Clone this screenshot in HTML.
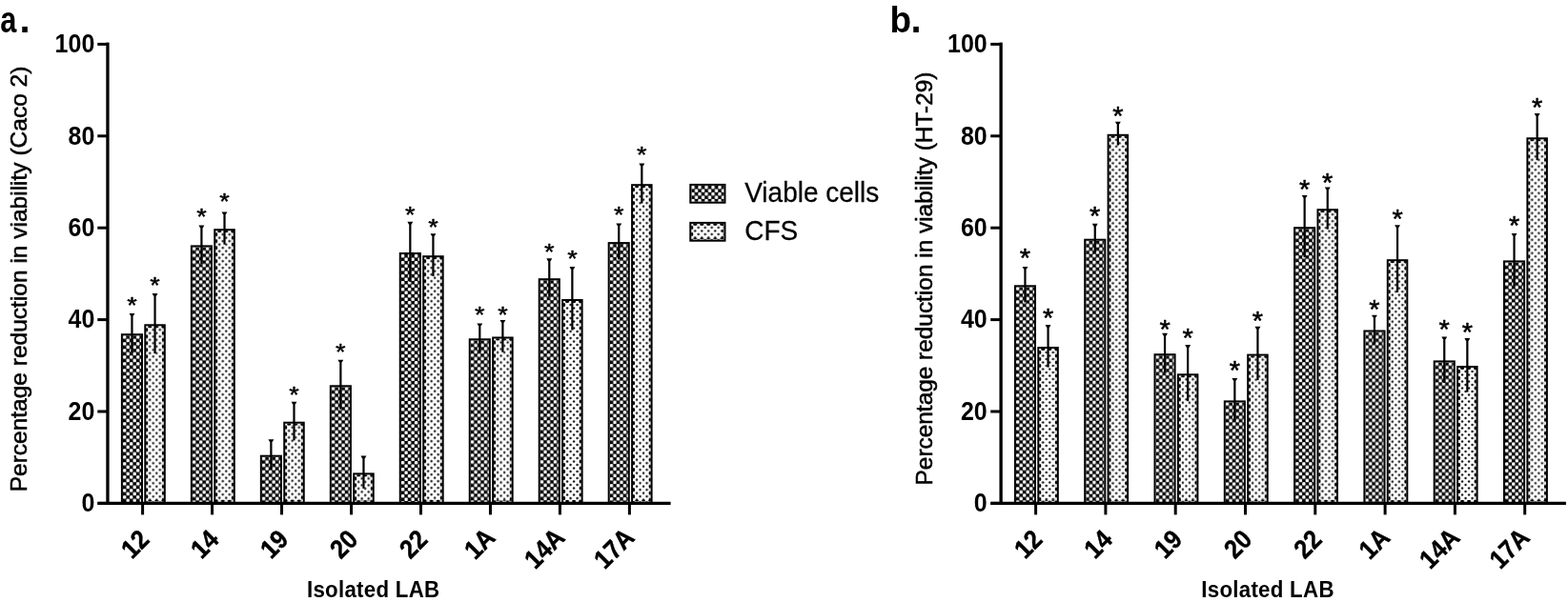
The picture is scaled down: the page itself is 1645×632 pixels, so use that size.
<!DOCTYPE html><html><head><meta charset="utf-8"><title>Figure</title>
<style>html,body{margin:0;padding:0;background:#fff;}svg{display:block;}text{font-family:"Liberation Sans",Arial,sans-serif;fill:#000;}</style></head><body>
<svg width="1645" height="632" viewBox="0 0 1645 632">
<defs><pattern id="pd" patternUnits="userSpaceOnUse" width="7" height="7"><rect width="7" height="7" fill="#000"/><rect x="0.1" y="0.1" width="3.35" height="3.35" rx="0.8" fill="#fff"/><rect x="3.6" y="3.6" width="3.35" height="3.35" rx="0.8" fill="#fff"/></pattern><pattern id="pl" patternUnits="userSpaceOnUse" width="7" height="7"><rect width="7" height="7" fill="#fff"/><circle cx="0.5" cy="4" r="1.2" fill="#111"/><circle cx="4" cy="0.5" r="1.2" fill="#111"/><circle cx="7.5" cy="4" r="1.2" fill="#111"/><circle cx="4" cy="7.5" r="1.2" fill="#111"/></pattern><pattern id="sc" patternUnits="userSpaceOnUse" width="7" height="7"><circle cx="0.5" cy="4" r="2.0" fill="#000"/><circle cx="4" cy="0.5" r="2.0" fill="#000"/><circle cx="7.5" cy="4" r="2.0" fill="#000"/><circle cx="4" cy="7.5" r="2.0" fill="#000"/></pattern><filter id="soft" filterUnits="userSpaceOnUse" x="0" y="0" width="1645" height="632" color-interpolation-filters="sRGB"><feGaussianBlur stdDeviation="0.6"/></filter></defs>
<rect width="1645" height="632" fill="#fff"/>
<g filter="url(#soft)">
<g transform="translate(128.9 352.2)"><rect width="19.1" height="176.2" fill="url(#pd)"/></g>
<rect x="127.9" y="351.2" width="21.1" height="177.2" fill="none" stroke="#000" stroke-width="2.0"/>
<rect x="137.35" y="330.2" width="2.2" height="40" fill="#000"/>
<polygon points="135.55,328.9 141.35,328.9 139.95,331.5 136.95,331.5" fill="#000"/>
<text font-size="27" text-anchor="middle" stroke="#000" stroke-width="0.5" stroke-linejoin="round" transform="translate(138.45 328.5) scale(1.0 0.86)">*</text>
<g transform="translate(153.3 342.3)"><rect width="18.5" height="186.1" fill="url(#pl)"/><rect width="1.9" height="186.1" fill="url(#sc)"/><rect x="16.6" width="1.9" height="186.1" fill="url(#sc)"/><rect width="18.5" height="1.9" fill="url(#sc)"/><rect y="182.55" width="18.5" height="1.9" fill="url(#sc)"/></g>
<rect x="152.3" y="341.3" width="20.5" height="187.1" fill="none" stroke="#000" stroke-width="2.0"/>
<rect x="161.45" y="309.4" width="2.2" height="61.8" fill="#000"/>
<polygon points="159.65,308.1 165.45,308.1 164.05,310.7 161.05,310.7" fill="#000"/>
<text font-size="27" text-anchor="middle" stroke="#000" stroke-width="0.5" stroke-linejoin="round" transform="translate(162.55 307.6) scale(1.0 0.86)">*</text>
<g transform="translate(201.87 259.4)"><rect width="19.1" height="269" fill="url(#pd)"/></g>
<rect x="200.87" y="258.4" width="21.1" height="270" fill="none" stroke="#000" stroke-width="2.0"/>
<rect x="210.32" y="237.9" width="2.2" height="39" fill="#000"/>
<polygon points="208.52,236.6 214.32,236.6 212.92,239.2 209.92,239.2" fill="#000"/>
<text font-size="27" text-anchor="middle" stroke="#000" stroke-width="0.5" stroke-linejoin="round" transform="translate(211.42 235.8) scale(1.0 0.86)">*</text>
<g transform="translate(226.27 242.2)"><rect width="18.5" height="286.2" fill="url(#pl)"/><rect width="1.9" height="286.2" fill="url(#sc)"/><rect x="16.6" width="1.9" height="286.2" fill="url(#sc)"/><rect width="18.5" height="1.9" fill="url(#sc)"/><rect y="282.65" width="18.5" height="1.9" fill="url(#sc)"/></g>
<rect x="225.27" y="241.2" width="20.5" height="287.2" fill="none" stroke="#000" stroke-width="2.0"/>
<rect x="234.42" y="223.7" width="2.2" height="33" fill="#000"/>
<polygon points="232.62,222.4 238.42,222.4 237.02,225 234.02,225" fill="#000"/>
<text font-size="27" text-anchor="middle" stroke="#000" stroke-width="0.5" stroke-linejoin="round" transform="translate(235.52 220.35) scale(1.0 0.86)">*</text>
<g transform="translate(274.84 479.7)"><rect width="19.1" height="48.7" fill="url(#pd)"/></g>
<rect x="273.84" y="478.7" width="21.1" height="49.7" fill="none" stroke="#000" stroke-width="2.0"/>
<rect x="283.29" y="462.5" width="2.2" height="30.4" fill="#000"/>
<polygon points="281.49,461.2 287.29,461.2 285.89,463.8 282.89,463.8" fill="#000"/>
<g transform="translate(299.24 444.7)"><rect width="18.5" height="83.7" fill="url(#pl)"/><rect width="1.9" height="83.7" fill="url(#sc)"/><rect x="16.6" width="1.9" height="83.7" fill="url(#sc)"/><rect width="18.5" height="1.9" fill="url(#sc)"/><rect y="80.15" width="18.5" height="1.9" fill="url(#sc)"/></g>
<rect x="298.24" y="443.7" width="20.5" height="84.7" fill="none" stroke="#000" stroke-width="2.0"/>
<rect x="307.39" y="423" width="2.2" height="39.4" fill="#000"/>
<polygon points="305.59,421.7 311.39,421.7 309.99,424.3 306.99,424.3" fill="#000"/>
<text font-size="27" text-anchor="middle" stroke="#000" stroke-width="0.5" stroke-linejoin="round" transform="translate(308.49 423) scale(1.0 0.86)">*</text>
<g transform="translate(347.81 406.3)"><rect width="19.1" height="122.1" fill="url(#pd)"/></g>
<rect x="346.81" y="405.3" width="21.1" height="123.1" fill="none" stroke="#000" stroke-width="2.0"/>
<rect x="356.26" y="379" width="2.2" height="50.6" fill="#000"/>
<polygon points="354.46,377.7 360.26,377.7 358.86,380.3 355.86,380.3" fill="#000"/>
<text font-size="27" text-anchor="middle" stroke="#000" stroke-width="0.5" stroke-linejoin="round" transform="translate(357.36 377.5) scale(1.0 0.86)">*</text>
<g transform="translate(372.21 498.4)"><rect width="18.5" height="30" fill="url(#pl)"/><rect width="1.9" height="30" fill="url(#sc)"/><rect x="16.6" width="1.9" height="30" fill="url(#sc)"/><rect width="18.5" height="1.9" fill="url(#sc)"/><rect y="26.45" width="18.5" height="1.9" fill="url(#sc)"/></g>
<rect x="371.21" y="497.4" width="20.5" height="31" fill="none" stroke="#000" stroke-width="2.0"/>
<rect x="380.36" y="479.9" width="2.2" height="33" fill="#000"/>
<polygon points="378.56,478.6 384.36,478.6 382.96,481.2 379.96,481.2" fill="#000"/>
<g transform="translate(420.78 267)"><rect width="19.1" height="261.4" fill="url(#pd)"/></g>
<rect x="419.78" y="266" width="21.1" height="262.4" fill="none" stroke="#000" stroke-width="2.0"/>
<rect x="429.23" y="234.1" width="2.2" height="61.8" fill="#000"/>
<polygon points="427.43,232.8 433.23,232.8 431.83,235.4 428.83,235.4" fill="#000"/>
<text font-size="27" text-anchor="middle" stroke="#000" stroke-width="0.5" stroke-linejoin="round" transform="translate(430.33 234.1) scale(1.0 0.86)">*</text>
<g transform="translate(445.18 270.2)"><rect width="18.5" height="258.2" fill="url(#pl)"/><rect width="1.9" height="258.2" fill="url(#sc)"/><rect x="16.6" width="1.9" height="258.2" fill="url(#sc)"/><rect width="18.5" height="1.9" fill="url(#sc)"/><rect y="254.65" width="18.5" height="1.9" fill="url(#sc)"/></g>
<rect x="444.18" y="269.2" width="20.5" height="259.2" fill="none" stroke="#000" stroke-width="2.0"/>
<rect x="453.33" y="246.5" width="2.2" height="43.4" fill="#000"/>
<polygon points="451.53,245.2 457.33,245.2 455.93,247.8 452.93,247.8" fill="#000"/>
<text font-size="27" text-anchor="middle" stroke="#000" stroke-width="0.5" stroke-linejoin="round" transform="translate(454.43 246.5) scale(1.0 0.86)">*</text>
<g transform="translate(493.75 357.3)"><rect width="19.1" height="171.1" fill="url(#pd)"/></g>
<rect x="492.75" y="356.3" width="21.1" height="172.1" fill="none" stroke="#000" stroke-width="2.0"/>
<rect x="502.2" y="340.8" width="2.2" height="29" fill="#000"/>
<polygon points="500.4,339.5 506.2,339.5 504.8,342.1 501.8,342.1" fill="#000"/>
<text font-size="27" text-anchor="middle" stroke="#000" stroke-width="0.5" stroke-linejoin="round" transform="translate(503.3 339.1) scale(1.0 0.86)">*</text>
<g transform="translate(518.15 355.5)"><rect width="18.5" height="172.9" fill="url(#pl)"/><rect width="1.9" height="172.9" fill="url(#sc)"/><rect x="16.6" width="1.9" height="172.9" fill="url(#sc)"/><rect width="18.5" height="1.9" fill="url(#sc)"/><rect y="169.35" width="18.5" height="1.9" fill="url(#sc)"/></g>
<rect x="517.15" y="354.5" width="20.5" height="173.9" fill="none" stroke="#000" stroke-width="2.0"/>
<rect x="526.3" y="337.2" width="2.2" height="32.6" fill="#000"/>
<polygon points="524.5,335.9 530.3,335.9 528.9,338.5 525.9,338.5" fill="#000"/>
<text font-size="27" text-anchor="middle" stroke="#000" stroke-width="0.5" stroke-linejoin="round" transform="translate(527.4 338.9) scale(1.0 0.86)">*</text>
<g transform="translate(566.72 294.2)"><rect width="19.1" height="234.2" fill="url(#pd)"/></g>
<rect x="565.72" y="293.2" width="21.1" height="235.2" fill="none" stroke="#000" stroke-width="2.0"/>
<rect x="575.17" y="272.6" width="2.2" height="39.2" fill="#000"/>
<polygon points="573.37,271.3 579.17,271.3 577.77,273.9 574.77,273.9" fill="#000"/>
<text font-size="27" text-anchor="middle" stroke="#000" stroke-width="0.5" stroke-linejoin="round" transform="translate(576.27 272.6) scale(1.0 0.86)">*</text>
<g transform="translate(591.12 316)"><rect width="18.5" height="212.4" fill="url(#pl)"/><rect width="1.9" height="212.4" fill="url(#sc)"/><rect x="16.6" width="1.9" height="212.4" fill="url(#sc)"/><rect width="18.5" height="1.9" fill="url(#sc)"/><rect y="208.85" width="18.5" height="1.9" fill="url(#sc)"/></g>
<rect x="590.12" y="315" width="20.5" height="213.4" fill="none" stroke="#000" stroke-width="2.0"/>
<rect x="599.27" y="281.4" width="2.2" height="65.2" fill="#000"/>
<polygon points="597.47,280.1 603.27,280.1 601.87,282.7 598.87,282.7" fill="#000"/>
<text font-size="27" text-anchor="middle" stroke="#000" stroke-width="0.5" stroke-linejoin="round" transform="translate(600.37 279.7) scale(1.0 0.86)">*</text>
<g transform="translate(639.69 256.1)"><rect width="19.1" height="272.3" fill="url(#pd)"/></g>
<rect x="638.69" y="255.1" width="21.1" height="273.3" fill="none" stroke="#000" stroke-width="2.0"/>
<rect x="648.14" y="235.8" width="2.2" height="36.6" fill="#000"/>
<polygon points="646.34,234.5 652.14,234.5 650.74,237.1 647.74,237.1" fill="#000"/>
<text font-size="27" text-anchor="middle" stroke="#000" stroke-width="0.5" stroke-linejoin="round" transform="translate(649.24 234.3) scale(1.0 0.86)">*</text>
<g transform="translate(664.09 195.2)"><rect width="18.5" height="333.2" fill="url(#pl)"/><rect width="1.9" height="333.2" fill="url(#sc)"/><rect x="16.6" width="1.9" height="333.2" fill="url(#sc)"/><rect width="18.5" height="1.9" fill="url(#sc)"/><rect y="329.65" width="18.5" height="1.9" fill="url(#sc)"/></g>
<rect x="663.09" y="194.2" width="20.5" height="334.2" fill="none" stroke="#000" stroke-width="2.0"/>
<rect x="672.24" y="172.9" width="2.2" height="40.6" fill="#000"/>
<polygon points="670.44,171.6 676.24,171.6 674.84,174.2 671.84,174.2" fill="#000"/>
<text font-size="27" text-anchor="middle" stroke="#000" stroke-width="0.5" stroke-linejoin="round" transform="translate(673.34 171.4) scale(1.0 0.86)">*</text>
<rect x="111.3" y="44.6" width="3.3" height="485.45" fill="#000"/>
<rect x="102.5" y="526.75" width="601.1" height="3.3" fill="#000"/>
<rect x="102.3" y="526.9" width="10.65" height="3" fill="#000"/>
<text font-size="25" font-weight="bold" text-anchor="end" transform="translate(99.3 537.2) scale(1 1.1)">0</text>
<rect x="102.3" y="430.5" width="10.65" height="3" fill="#000"/>
<text font-size="25" font-weight="bold" text-anchor="end" transform="translate(99.3 440.8) scale(1 1.1)">20</text>
<rect x="102.3" y="334.1" width="10.65" height="3" fill="#000"/>
<text font-size="25" font-weight="bold" text-anchor="end" transform="translate(99.3 344.4) scale(1 1.1)">40</text>
<rect x="102.3" y="237.7" width="10.65" height="3" fill="#000"/>
<text font-size="25" font-weight="bold" text-anchor="end" transform="translate(99.3 248) scale(1 1.1)">60</text>
<rect x="102.3" y="141.3" width="10.65" height="3" fill="#000"/>
<text font-size="25" font-weight="bold" text-anchor="end" transform="translate(99.3 151.6) scale(1 1.1)">80</text>
<rect x="102.3" y="44.9" width="10.65" height="3" fill="#000"/>
<text font-size="25" font-weight="bold" text-anchor="end" transform="translate(99.3 55.2) scale(1 1.1)">100</text>
<rect x="148.1" y="528.4" width="3" height="12" fill="#000"/>
<text font-size="25" font-weight="bold" text-anchor="end" stroke="#000" stroke-width="0.4" transform="translate(158.2 568) rotate(-45) scale(1 1.1)">12</text>
<rect x="221.07" y="528.4" width="3" height="12" fill="#000"/>
<text font-size="25" font-weight="bold" text-anchor="end" stroke="#000" stroke-width="0.4" transform="translate(231.17 568) rotate(-45) scale(1 1.1)">14</text>
<rect x="294.04" y="528.4" width="3" height="12" fill="#000"/>
<text font-size="25" font-weight="bold" text-anchor="end" stroke="#000" stroke-width="0.4" transform="translate(304.14 568) rotate(-45) scale(1 1.1)">19</text>
<rect x="367.01" y="528.4" width="3" height="12" fill="#000"/>
<text font-size="25" font-weight="bold" text-anchor="end" stroke="#000" stroke-width="0.4" transform="translate(377.11 568) rotate(-45) scale(1 1.1)">20</text>
<rect x="439.98" y="528.4" width="3" height="12" fill="#000"/>
<text font-size="25" font-weight="bold" text-anchor="end" stroke="#000" stroke-width="0.4" transform="translate(450.08 568) rotate(-45) scale(1 1.1)">22</text>
<rect x="512.95" y="528.4" width="3" height="12" fill="#000"/>
<text font-size="25" font-weight="bold" text-anchor="end" stroke="#000" stroke-width="0.4" transform="translate(521.05 566) rotate(-45) scale(1 1.1)">1A</text>
<rect x="585.92" y="528.4" width="3" height="12" fill="#000"/>
<text font-size="25" font-weight="bold" text-anchor="end" stroke="#000" stroke-width="0.4" transform="translate(594.02 566) rotate(-45) scale(1 1.1)">14A</text>
<rect x="658.89" y="528.4" width="3" height="12" fill="#000"/>
<text font-size="25" font-weight="bold" text-anchor="end" stroke="#000" stroke-width="0.4" transform="translate(666.99 566) rotate(-45) scale(1 1.1)">17A</text>
<text x="28" y="293" font-size="24.5" text-anchor="middle" stroke="#000" stroke-width="0.55" transform="rotate(-90 28 293)">Percentage reduction in viability (Caco 2)</text>
<text font-size="22.3" font-weight="bold" letter-spacing="0.27" text-anchor="middle" transform="translate(391.7 627.4) scale(1 1.05)">Isolated LAB</text>
<g transform="translate(1065.9 301.3)"><rect width="19.1" height="227.1" fill="url(#pd)"/></g>
<rect x="1064.9" y="300.3" width="21.1" height="228.1" fill="none" stroke="#000" stroke-width="2.0"/>
<rect x="1074.35" y="281.2" width="2.2" height="36.2" fill="#000"/>
<polygon points="1072.55,279.9 1078.35,279.9 1076.95,282.5 1073.95,282.5" fill="#000"/>
<text font-size="29" text-anchor="middle" stroke="#000" stroke-width="0.5" stroke-linejoin="round" transform="translate(1075.45 279.72) scale(1.0 0.97)">*</text>
<g transform="translate(1090.3 366)"><rect width="18.5" height="162.4" fill="url(#pl)"/><rect width="1.9" height="162.4" fill="url(#sc)"/><rect x="16.6" width="1.9" height="162.4" fill="url(#sc)"/><rect width="18.5" height="1.9" fill="url(#sc)"/><rect y="158.85" width="18.5" height="1.9" fill="url(#sc)"/></g>
<rect x="1089.3" y="365" width="20.5" height="163.4" fill="none" stroke="#000" stroke-width="2.0"/>
<rect x="1098.45" y="342.4" width="2.2" height="43.2" fill="#000"/>
<polygon points="1096.65,341.1 1102.45,341.1 1101.05,343.7 1098.05,343.7" fill="#000"/>
<text font-size="29" text-anchor="middle" stroke="#000" stroke-width="0.5" stroke-linejoin="round" transform="translate(1099.55 342.52) scale(1.0 0.97)">*</text>
<g transform="translate(1139.2 252.7)"><rect width="19.1" height="275.7" fill="url(#pd)"/></g>
<rect x="1138.2" y="251.7" width="21.1" height="276.7" fill="none" stroke="#000" stroke-width="2.0"/>
<rect x="1147.65" y="236.1" width="2.2" height="29.2" fill="#000"/>
<polygon points="1145.85,234.8 1151.65,234.8 1150.25,237.4 1147.25,237.4" fill="#000"/>
<text font-size="29" text-anchor="middle" stroke="#000" stroke-width="0.5" stroke-linejoin="round" transform="translate(1148.75 236.12) scale(1.0 0.97)">*</text>
<g transform="translate(1163.6 142.8)"><rect width="18.5" height="385.6" fill="url(#pl)"/><rect width="1.9" height="385.6" fill="url(#sc)"/><rect x="16.6" width="1.9" height="385.6" fill="url(#sc)"/><rect width="18.5" height="1.9" fill="url(#sc)"/><rect y="382.05" width="18.5" height="1.9" fill="url(#sc)"/></g>
<rect x="1162.6" y="141.8" width="20.5" height="386.6" fill="none" stroke="#000" stroke-width="2.0"/>
<rect x="1171.75" y="129" width="2.2" height="23.6" fill="#000"/>
<polygon points="1169.95,127.7 1175.75,127.7 1174.35,130.3 1171.35,130.3" fill="#000"/>
<text font-size="29" text-anchor="middle" stroke="#000" stroke-width="0.5" stroke-linejoin="round" transform="translate(1172.85 131.12) scale(1.0 0.97)">*</text>
<g transform="translate(1212.5 373.2)"><rect width="19.1" height="155.2" fill="url(#pd)"/></g>
<rect x="1211.5" y="372.2" width="21.1" height="156.2" fill="none" stroke="#000" stroke-width="2.0"/>
<rect x="1220.95" y="351.1" width="2.2" height="40.2" fill="#000"/>
<polygon points="1219.15,349.8 1224.95,349.8 1223.55,352.4 1220.55,352.4" fill="#000"/>
<text font-size="29" text-anchor="middle" stroke="#000" stroke-width="0.5" stroke-linejoin="round" transform="translate(1222.05 354.72) scale(1.0 0.97)">*</text>
<g transform="translate(1236.9 394.3)"><rect width="18.5" height="134.1" fill="url(#pl)"/><rect width="1.9" height="134.1" fill="url(#sc)"/><rect x="16.6" width="1.9" height="134.1" fill="url(#sc)"/><rect width="18.5" height="1.9" fill="url(#sc)"/><rect y="130.55" width="18.5" height="1.9" fill="url(#sc)"/></g>
<rect x="1235.9" y="393.3" width="20.5" height="135.1" fill="none" stroke="#000" stroke-width="2.0"/>
<rect x="1245.05" y="363.4" width="2.2" height="57.8" fill="#000"/>
<polygon points="1243.25,362.1 1249.05,362.1 1247.65,364.7 1244.65,364.7" fill="#000"/>
<text font-size="29" text-anchor="middle" stroke="#000" stroke-width="0.5" stroke-linejoin="round" transform="translate(1246.15 363.52) scale(1.0 0.97)">*</text>
<g transform="translate(1285.8 422.4)"><rect width="19.1" height="106" fill="url(#pd)"/></g>
<rect x="1284.8" y="421.4" width="21.1" height="107" fill="none" stroke="#000" stroke-width="2.0"/>
<rect x="1294.25" y="398.3" width="2.2" height="44.2" fill="#000"/>
<polygon points="1292.45,397 1298.25,397 1296.85,399.6 1293.85,399.6" fill="#000"/>
<text font-size="29" text-anchor="middle" stroke="#000" stroke-width="0.5" stroke-linejoin="round" transform="translate(1295.35 398.32) scale(1.0 0.97)">*</text>
<g transform="translate(1310.2 373.6)"><rect width="18.5" height="154.8" fill="url(#pl)"/><rect width="1.9" height="154.8" fill="url(#sc)"/><rect x="16.6" width="1.9" height="154.8" fill="url(#sc)"/><rect width="18.5" height="1.9" fill="url(#sc)"/><rect y="151.25" width="18.5" height="1.9" fill="url(#sc)"/></g>
<rect x="1309.2" y="372.6" width="20.5" height="155.8" fill="none" stroke="#000" stroke-width="2.0"/>
<rect x="1318.35" y="344.1" width="2.2" height="55" fill="#000"/>
<polygon points="1316.55,342.8 1322.35,342.8 1320.95,345.4 1317.95,345.4" fill="#000"/>
<text font-size="29" text-anchor="middle" stroke="#000" stroke-width="0.5" stroke-linejoin="round" transform="translate(1319.45 345.92) scale(1.0 0.97)">*</text>
<g transform="translate(1359.1 240.2)"><rect width="19.1" height="288.2" fill="url(#pd)"/></g>
<rect x="1358.1" y="239.2" width="21.1" height="289.2" fill="none" stroke="#000" stroke-width="2.0"/>
<rect x="1367.55" y="206.2" width="2.2" height="64" fill="#000"/>
<polygon points="1365.75,204.9 1371.55,204.9 1370.15,207.5 1367.15,207.5" fill="#000"/>
<text font-size="29" text-anchor="middle" stroke="#000" stroke-width="0.5" stroke-linejoin="round" transform="translate(1368.65 207.62) scale(1.0 0.97)">*</text>
<g transform="translate(1383.5 221.2)"><rect width="18.5" height="307.2" fill="url(#pl)"/><rect width="1.9" height="307.2" fill="url(#sc)"/><rect x="16.6" width="1.9" height="307.2" fill="url(#sc)"/><rect width="18.5" height="1.9" fill="url(#sc)"/><rect y="303.65" width="18.5" height="1.9" fill="url(#sc)"/></g>
<rect x="1382.5" y="220.2" width="20.5" height="308.2" fill="none" stroke="#000" stroke-width="2.0"/>
<rect x="1391.65" y="197.7" width="2.2" height="43" fill="#000"/>
<polygon points="1389.85,196.4 1395.65,196.4 1394.25,199 1391.25,199" fill="#000"/>
<text font-size="29" text-anchor="middle" stroke="#000" stroke-width="0.5" stroke-linejoin="round" transform="translate(1392.75 201.02) scale(1.0 0.97)">*</text>
<g transform="translate(1432.4 348.5)"><rect width="19.1" height="179.9" fill="url(#pd)"/></g>
<rect x="1431.4" y="347.5" width="21.1" height="180.9" fill="none" stroke="#000" stroke-width="2.0"/>
<rect x="1440.85" y="332" width="2.2" height="29" fill="#000"/>
<polygon points="1439.05,330.7 1444.85,330.7 1443.45,333.3 1440.45,333.3" fill="#000"/>
<text font-size="29" text-anchor="middle" stroke="#000" stroke-width="0.5" stroke-linejoin="round" transform="translate(1441.95 333.52) scale(1.0 0.97)">*</text>
<g transform="translate(1456.8 274.2)"><rect width="18.5" height="254.2" fill="url(#pl)"/><rect width="1.9" height="254.2" fill="url(#sc)"/><rect x="16.6" width="1.9" height="254.2" fill="url(#sc)"/><rect width="18.5" height="1.9" fill="url(#sc)"/><rect y="250.65" width="18.5" height="1.9" fill="url(#sc)"/></g>
<rect x="1455.8" y="273.2" width="20.5" height="255.2" fill="none" stroke="#000" stroke-width="2.0"/>
<rect x="1464.95" y="237.5" width="2.2" height="69.4" fill="#000"/>
<polygon points="1463.15,236.2 1468.95,236.2 1467.55,238.8 1464.55,238.8" fill="#000"/>
<text font-size="29" text-anchor="middle" stroke="#000" stroke-width="0.5" stroke-linejoin="round" transform="translate(1466.05 239.32) scale(1.0 0.97)">*</text>
<g transform="translate(1505.7 380.4)"><rect width="19.1" height="148" fill="url(#pd)"/></g>
<rect x="1504.7" y="379.4" width="21.1" height="149" fill="none" stroke="#000" stroke-width="2.0"/>
<rect x="1514.15" y="354.8" width="2.2" height="47.2" fill="#000"/>
<polygon points="1512.35,353.5 1518.15,353.5 1516.75,356.1 1513.75,356.1" fill="#000"/>
<text font-size="29" text-anchor="middle" stroke="#000" stroke-width="0.5" stroke-linejoin="round" transform="translate(1515.25 354.82) scale(1.0 0.97)">*</text>
<g transform="translate(1530.1 386)"><rect width="18.5" height="142.4" fill="url(#pl)"/><rect width="1.9" height="142.4" fill="url(#sc)"/><rect x="16.6" width="1.9" height="142.4" fill="url(#sc)"/><rect width="18.5" height="1.9" fill="url(#sc)"/><rect y="138.85" width="18.5" height="1.9" fill="url(#sc)"/></g>
<rect x="1529.1" y="385" width="20.5" height="143.4" fill="none" stroke="#000" stroke-width="2.0"/>
<rect x="1538.25" y="356.4" width="2.2" height="55.2" fill="#000"/>
<polygon points="1536.45,355.1 1542.25,355.1 1540.85,357.7 1537.85,357.7" fill="#000"/>
<text font-size="29" text-anchor="middle" stroke="#000" stroke-width="0.5" stroke-linejoin="round" transform="translate(1539.35 358.22) scale(1.0 0.97)">*</text>
<g transform="translate(1579 275.4)"><rect width="19.1" height="253" fill="url(#pd)"/></g>
<rect x="1578" y="274.4" width="21.1" height="254" fill="none" stroke="#000" stroke-width="2.0"/>
<rect x="1587.45" y="246.3" width="2.2" height="54.2" fill="#000"/>
<polygon points="1585.65,245 1591.45,245 1590.05,247.6 1587.05,247.6" fill="#000"/>
<text font-size="29" text-anchor="middle" stroke="#000" stroke-width="0.5" stroke-linejoin="round" transform="translate(1588.55 246.42) scale(1.0 0.97)">*</text>
<g transform="translate(1603.4 146.3)"><rect width="18.5" height="382.1" fill="url(#pl)"/><rect width="1.9" height="382.1" fill="url(#sc)"/><rect x="16.6" width="1.9" height="382.1" fill="url(#sc)"/><rect width="18.5" height="1.9" fill="url(#sc)"/><rect y="378.55" width="18.5" height="1.9" fill="url(#sc)"/></g>
<rect x="1602.4" y="145.3" width="20.5" height="383.1" fill="none" stroke="#000" stroke-width="2.0"/>
<rect x="1611.55" y="120.4" width="2.2" height="47.8" fill="#000"/>
<polygon points="1609.75,119.1 1615.55,119.1 1614.15,121.7 1611.15,121.7" fill="#000"/>
<text font-size="29" text-anchor="middle" stroke="#000" stroke-width="0.5" stroke-linejoin="round" transform="translate(1612.65 122.32) scale(1.0 0.97)">*</text>
<rect x="1048.45" y="44.6" width="3.3" height="485.45" fill="#000"/>
<rect x="1039.3" y="526.75" width="603.6" height="3.3" fill="#000"/>
<rect x="1039.2" y="526.9" width="10.9" height="3" fill="#000"/>
<text font-size="25" font-weight="bold" text-anchor="end" transform="translate(1035.7 537.2) scale(1 1.1)">0</text>
<rect x="1039.2" y="430.5" width="10.9" height="3" fill="#000"/>
<text font-size="25" font-weight="bold" text-anchor="end" transform="translate(1035.7 440.8) scale(1 1.1)">20</text>
<rect x="1039.2" y="334.1" width="10.9" height="3" fill="#000"/>
<text font-size="25" font-weight="bold" text-anchor="end" transform="translate(1035.7 344.4) scale(1 1.1)">40</text>
<rect x="1039.2" y="237.7" width="10.9" height="3" fill="#000"/>
<text font-size="25" font-weight="bold" text-anchor="end" transform="translate(1035.7 248) scale(1 1.1)">60</text>
<rect x="1039.2" y="141.3" width="10.9" height="3" fill="#000"/>
<text font-size="25" font-weight="bold" text-anchor="end" transform="translate(1035.7 151.6) scale(1 1.1)">80</text>
<rect x="1039.2" y="44.9" width="10.9" height="3" fill="#000"/>
<text font-size="25" font-weight="bold" text-anchor="end" transform="translate(1035.7 55.2) scale(1 1.1)">100</text>
<rect x="1085.1" y="528.4" width="3" height="12" fill="#000"/>
<text font-size="25" font-weight="bold" text-anchor="end" stroke="#000" stroke-width="0.4" transform="translate(1095.2 568) rotate(-45) scale(1 1.1)">12</text>
<rect x="1158.4" y="528.4" width="3" height="12" fill="#000"/>
<text font-size="25" font-weight="bold" text-anchor="end" stroke="#000" stroke-width="0.4" transform="translate(1168.5 568) rotate(-45) scale(1 1.1)">14</text>
<rect x="1231.7" y="528.4" width="3" height="12" fill="#000"/>
<text font-size="25" font-weight="bold" text-anchor="end" stroke="#000" stroke-width="0.4" transform="translate(1241.8 568) rotate(-45) scale(1 1.1)">19</text>
<rect x="1305" y="528.4" width="3" height="12" fill="#000"/>
<text font-size="25" font-weight="bold" text-anchor="end" stroke="#000" stroke-width="0.4" transform="translate(1315.1 568) rotate(-45) scale(1 1.1)">20</text>
<rect x="1378.3" y="528.4" width="3" height="12" fill="#000"/>
<text font-size="25" font-weight="bold" text-anchor="end" stroke="#000" stroke-width="0.4" transform="translate(1388.4 568) rotate(-45) scale(1 1.1)">22</text>
<rect x="1451.6" y="528.4" width="3" height="12" fill="#000"/>
<text font-size="25" font-weight="bold" text-anchor="end" stroke="#000" stroke-width="0.4" transform="translate(1459.7 566) rotate(-45) scale(1 1.1)">1A</text>
<rect x="1524.9" y="528.4" width="3" height="12" fill="#000"/>
<text font-size="25" font-weight="bold" text-anchor="end" stroke="#000" stroke-width="0.4" transform="translate(1533 566) rotate(-45) scale(1 1.1)">14A</text>
<rect x="1598.2" y="528.4" width="3" height="12" fill="#000"/>
<text font-size="25" font-weight="bold" text-anchor="end" stroke="#000" stroke-width="0.4" transform="translate(1606.3 566) rotate(-45) scale(1 1.1)">17A</text>
<text x="978" y="292.5" font-size="24.4" text-anchor="middle" stroke="#000" stroke-width="0.55" transform="rotate(-90 978 292.5)">Percentage reduction in viability (HT-29)</text>
<text font-size="22.3" font-weight="bold" letter-spacing="0.27" text-anchor="middle" transform="translate(1330 627.4) scale(1 1.05)">Isolated LAB</text>
<text font-size="38" font-weight="bold" transform="translate(0.3 33.8) scale(0.81 1)">a</text>
<text x="20.4" y="34" font-size="40" font-weight="bold">.</text>
<text font-size="38.5" font-weight="bold" transform="translate(933.4 33.7) scale(0.96 1)">b</text>
<text x="955.4" y="34" font-size="40" font-weight="bold">.</text>
<g transform="translate(725.3 194.9)"><rect width="34.2" height="16.8" fill="url(#pd)"/></g>
<rect x="724.3" y="193.9" width="36.2" height="18.8" fill="none" stroke="#000" stroke-width="2.0"/>
<g transform="translate(725.3 234.9)"><rect width="34.2" height="16.8" fill="url(#pl)"/><rect width="1.9" height="16.8" fill="url(#sc)"/><rect x="32.3" width="1.9" height="16.8" fill="url(#sc)"/><rect width="34.2" height="1.9" fill="url(#sc)"/><rect y="14.9" width="34.2" height="1.9" fill="url(#sc)"/></g>
<rect x="724.3" y="233.9" width="36.2" height="18.8" fill="none" stroke="#000" stroke-width="2.0"/>
<text font-size="28" stroke="#000" stroke-width="0.25" transform="translate(781.2 212.2) scale(1 1.08)">Viable cells</text>
<text font-size="28" stroke="#000" stroke-width="0.25" transform="translate(781.2 252.2) scale(1 1.08)">CFS</text>
</g>
</svg></body></html>
